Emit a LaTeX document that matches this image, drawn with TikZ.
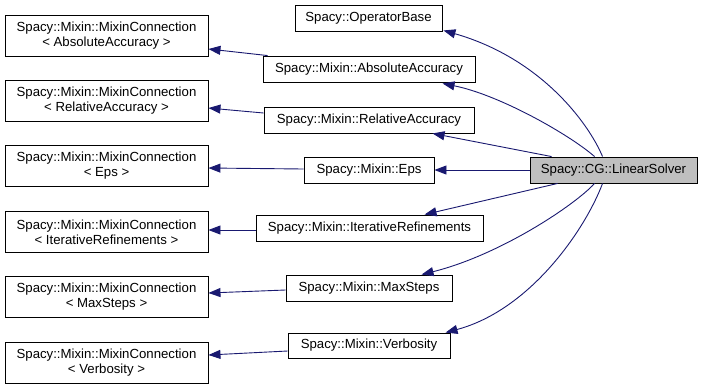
\documentclass[tikz,border=0pt]{standalone}
\usepackage{fontspec}
\setmainfont{Liberation Sans}
\usetikzlibrary{calc,arrows.meta}
\definecolor{edgeblue}{RGB}{25,25,112}
\definecolor{solvergray}{RGB}{191,191,191}
\begin{document}
\begin{tikzpicture}[x=1bp,y=-1bp,
  cls/.style={draw=black,line width=0.9bp,fill=white,inner sep=0pt,align=center,
    font=\fontsize{13.2bp}{15bp}\selectfont},
  tmpl/.style={cls,minimum width=203bp,minimum height=41bp},
  mixin/.style={cls,minimum height=26bp},
  inherit/.style={draw=edgeblue,line width=0.9bp,
    -{Triangle[length=12bp,width=9bp,fill=edgeblue]}}
]
\useasboundingbox (0,0) rectangle (703,389);

% template instantiations (left column)
\node[tmpl] (tabs) at (106.5,35.5) {Spacy::Mixin::MixinConnection\\\textless{} AbsoluteAccuracy \textgreater{}};
\node[tmpl] (trel) at (106.5,101) {Spacy::Mixin::MixinConnection\\\textless{} RelativeAccuracy \textgreater{}};
\node[tmpl] (teps) at (106.5,166) {Spacy::Mixin::MixinConnection\\\textless{} Eps \textgreater{}};
\node[tmpl] (tit)  at (106.5,232) {Spacy::Mixin::MixinConnection\\\textless{} IterativeRefinements \textgreater{}};
\node[tmpl] (tmax) at (106.5,297) {Spacy::Mixin::MixinConnection\\\textless{} MaxSteps \textgreater{}};
\node[tmpl] (tverb) at (106.5,363) {Spacy::Mixin::MixinConnection\\\textless{} Verbosity \textgreater{}};

% direct base classes (middle column)
\node[mixin,minimum width=147bp] (op)   at (368.5,18)  {Spacy::OperatorBase};
\node[mixin,minimum width=212bp] (abs)  at (369,69)    {Spacy::Mixin::AbsoluteAccuracy};
\node[mixin,minimum width=210bp] (rel)  at (369,120)   {Spacy::Mixin::RelativeAccuracy};
\node[mixin,minimum width=130bp] (eps)  at (369,170)   {Spacy::Mixin::Eps};
\node[mixin,minimum width=227bp] (it)   at (369.5,228) {Spacy::Mixin::IterativeRefinements};
\node[mixin,minimum width=166bp] (max)  at (369,288)   {Spacy::Mixin::MaxSteps};
\node[mixin,minimum width=162bp,minimum height=25bp] (verb) at (369,345.5) {Spacy::Mixin::Verbosity};

% the documented class
\node[mixin,minimum width=167bp,fill=solvergray] (ls) at (613.5,170) {Spacy::CG::LinearSolver};

% LinearSolver -> its bases
\draw[inherit] ($(ls.north west)+(73,0)$) .. controls (588,122) and (540,58) .. ($(op.south east)+(1,-1)$);
\draw[inherit] ($(ls.north west)+(65,0)$) .. controls (570,135) and (500,95) .. ($(abs.south west)+(180,1)$);
\draw[inherit] ($(ls.north west)+(22,0)$) -- ($(rel.south west)+(169,0)$);
\draw[inherit] (ls.west) -- (eps.east);
\draw[inherit] ($(ls.south west)+(28,0)$) -- ($(it.north west)+(169,0)$);
\draw[inherit] ($(ls.south west)+(65,0)$) .. controls (575,205) and (500,255) .. ($(max.north west)+(136,0)$);
\draw[inherit] ($(ls.south west)+(73,0)$) .. controls (585,230) and (530,310) .. ($(verb.north west)+(158,0)$);

% mixins -> MixinConnection instantiations
\draw[inherit] ($(abs.north west)+(5,0)$) -- ($(tabs.east)+(0,13.5)$);
\draw[inherit] ($(rel.west)+(0,-7)$) -- ($(trel.east)+(0,7)$);
\draw[inherit] ($(eps.west)+(0,-1)$) -- ($(teps.east)+(0,2)$);
\draw[inherit] ($(it.west)+(0,2)$) -- ($(tit.east)+(0,-2)$);
\draw[inherit] ($(max.west)+(0,2)$) -- ($(tmax.east)+(0,-4)$);
\draw[inherit] ($(verb.west)+(0,5.5)$) -- ($(tverb.east)+(0,-8)$);
\end{tikzpicture}
\end{document}
